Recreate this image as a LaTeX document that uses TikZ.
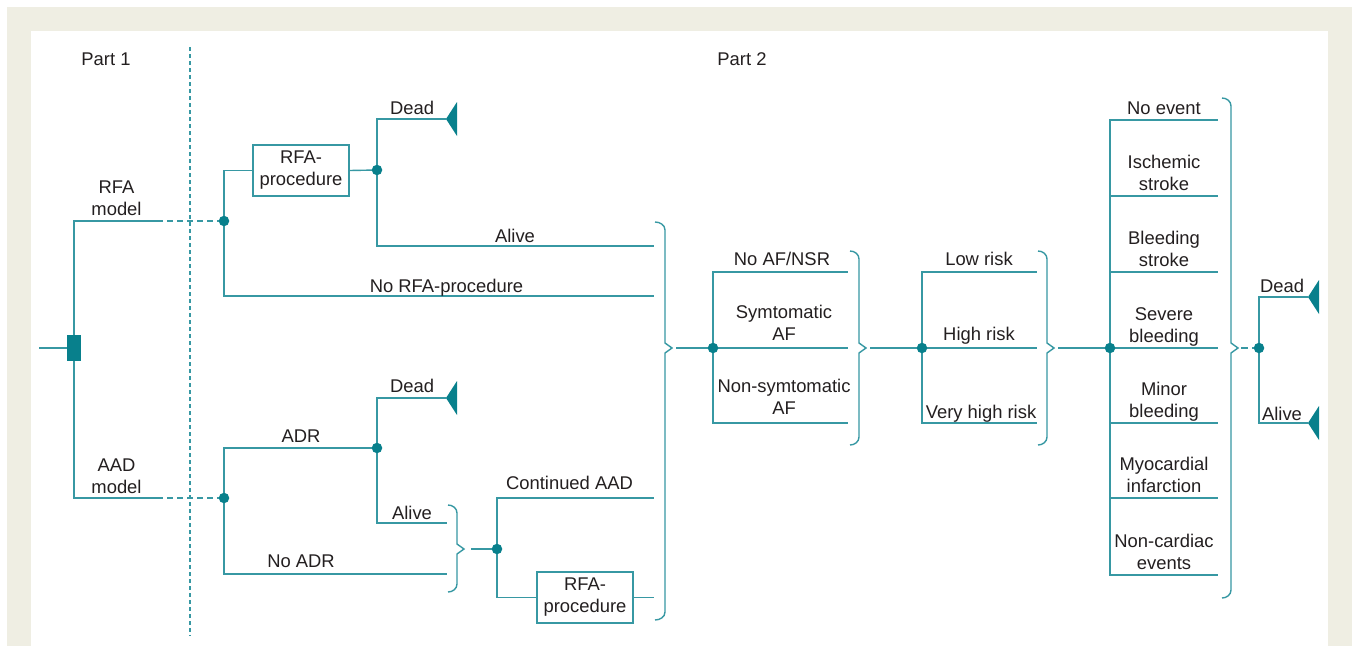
\documentclass[tikz,border=0pt]{standalone}
\usepackage{fontspec}
\setmainfont{Liberation Sans}
\definecolor{tline}{RGB}{55,152,163}
\definecolor{tdark}{RGB}{8,128,140}
\definecolor{txt}{RGB}{35,31,32}
\definecolor{beige}{RGB}{239,238,227}
\newcommand\lf{\fontsize{18.4}{22}\selectfont}
\newcommand\mybrace[5]{%
  \draw[ln] (#1,#3) to[out=0,in=90] (#2,#3+8) -- (#2,#5-5) -- (#2+7,#5) -- (#2,#5+5) -- (#2,#4-8) to[out=-90,in=0] (#1,#4);}
\newcommand\myterm[1]{%
  \fill[tdark] (#1) -- ++(11,-17) -- ++(0,34) -- cycle;}
\tikzset{
  ln/.style={draw=tline,line width=1.4pt},
  dsh/.style={draw=tline,line width=1.4pt,dash pattern=on 6pt off 4pt},
  dotnode/.style={circle,fill=tdark,inner sep=0pt,minimum size=10.5pt},
  pbox/.style={draw=tline,line width=1.4pt,rectangle,minimum width=96pt,minimum height=51pt,inner sep=0pt,align=center,text=txt,font=\lf},
  lbl/.style={anchor=base,text=txt,font=\lf,align=center,inner sep=0pt},
}
\begin{document}
\begin{tikzpicture}[x=1pt,y=-1pt]
\useasboundingbox (0,0) rectangle (1354,646);
\fill[white] (0,0) rectangle (1354,646);
\fill[beige] (7,7) rectangle (1352,646);
\fill[white] (31,31) rectangle (1328,646);
% divider
\draw[draw=tline,line width=1.1pt,dash pattern=on 4pt off 3pt] (190,47) -- (190,636);
\node[lbl] (p1) at (106,65) {Part 1};
\node[lbl] (p2) at (742,65) {Part 2};
% coordinates
\coordinate (rootL) at (39,348);
\coordinate (rfaC) at (74,221);
\coordinate (aadC) at (74,498);
\coordinate (rfaM) at (157,221);
\coordinate (aadM) at (157,498);
\coordinate (dR) at (224,221);
\coordinate (dA) at (224,498);
\coordinate (dR1) at (377,170);
\coordinate (dA1) at (377,448);
\coordinate (dA2) at (497,549);
\coordinate (dB) at (713,348);
\coordinate (dC) at (922,348);
\coordinate (dD) at (1110,348);
\coordinate (dE) at (1259,348);
% root
\node[fill=tdark,minimum width=14pt,minimum height=26pt,inner sep=0pt] (root) at (74,348) {};
\draw[ln] (rootL) -- (root.west);
\draw[ln] (root.north) -- (rfaC) -- (rfaM);
\draw[ln] (root.south) -- (aadC) -- (aadM);
\draw[dsh] (rfaM) -- (dR);
\draw[dsh] (aadM) -- (dA);
\node[lbl] (lrfa) at (116.5,215) {RFA\\model};
\node[lbl] (laad) at (116.5,493) {AAD\\model};
% RFA subtree
\node[pbox] (box1) at (301,170.5) {RFA-\\procedure};
\draw[ln] (dR) |- (box1.west);
\draw[ln] (box1.east) -- (dR1);
\coordinate (tRD) at (446,119);
\draw[ln] (dR1) |- (tRD);
\myterm{tRD}
\coordinate (eRA) at (654,246);
\draw[ln] (dR1) |- (eRA);
\coordinate (eRN) at (654,296);
\draw[ln] (dR) |- (eRN);
\node[lbl] (lrd) at (412,114) {Dead};
\node[lbl] (lra) at (515,242) {Alive};
\node[lbl] (lrn) at (446.5,292) {No RFA-procedure};
% AAD subtree
\draw[ln] (dA) |- (dA1);
\coordinate (tAD) at (446,398);
\draw[ln] (dA1) |- (tAD);
\myterm{tAD}
\coordinate (eAA) at (447,523);
\draw[ln] (dA1) |- (eAA);
\coordinate (eAN) at (447,574);
\draw[ln] (dA) |- (eAN);
\node[lbl] (ladr) at (301,442) {ADR};
\node[lbl] (lad) at (412,392.5) {Dead};
\node[lbl] (laa) at (412,519) {Alive};
\node[lbl] (lan) at (301,567.5) {No ADR};
\mybrace{448}{457}{505}{592}{549}
\coordinate (bS) at (471,549);
\draw[ln] (bS) -- (dA2);
\coordinate (eCA) at (654,498);
\draw[ln] (dA2) |- (eCA);
\node[lbl] (lca) at (569.5,489) {Continued AAD};
\node[pbox] (box2) at (585,597.5) {RFA-\\procedure};
\draw[ln] (dA2) |- (box2.west);
\coordinate (eRP) at (654,597.5);
\draw[ln] (box2.east) -- (eRP);
% brace 1
\mybrace{655}{665}{222}{620}{348}
\coordinate (b1) at (676,348);
\draw[ln] (b1) -- (dB);
\coordinate (eF1) at (848,272);
\coordinate (eF2) at (848,348);
\coordinate (eF3) at (848,423);
\draw[ln] (dB) |- (eF1);
\draw[ln] (dB) -- (eF2);
\draw[ln] (dB) |- (eF3);
\node[lbl] (lf1) at (782,265.5) {No AF/NSR};
\node[lbl] (lf2) at (784,340) {Symtomatic\\AF};
\node[lbl] (lf3) at (784,414) {Non-symtomatic\\AF};
% brace 2
\mybrace{850}{859}{251}{445}{348}
\coordinate (b2) at (870,348);
\draw[ln] (b2) -- (dC);
\coordinate (eR1) at (1037,272);
\coordinate (eR2) at (1037,348);
\coordinate (eR3) at (1037,423);
\draw[ln] (dC) |- (eR1);
\draw[ln] (dC) -- (eR2);
\draw[ln] (dC) |- (eR3);
\node[lbl] (lr1) at (979,265.5) {Low risk};
\node[lbl] (lr2) at (979,340) {High risk};
\node[lbl] (lr3) at (981,418) {Very high risk};
% brace 3
\mybrace{1038}{1047}{251}{445}{348}
\coordinate (b3) at (1058,348);
\draw[ln] (b3) -- (dD);
\foreach \n/\y in {1/120,2/196,3/272,4/348,5/423,6/498,7/575}{
  \coordinate (ev\n) at (1218,\y);
  \draw[ln] (dD) |- (ev\n);
}
\node[lbl] (le1) at (1164,114) {No event};
\node[lbl] (le2) at (1164,190) {Ischemic\\stroke};
\node[lbl] (le3) at (1164,266) {Bleeding\\stroke};
\node[lbl] (le4) at (1164,342) {Severe\\bleeding};
\node[lbl] (le5) at (1164,417) {Minor\\bleeding};
\node[lbl] (le6) at (1164,492) {Myocardial\\infarction};
\node[lbl] (le7) at (1164,569) {Non-cardiac\\events};
% brace 4
\mybrace{1222}{1231}{98}{598}{348}
\coordinate (b4a) at (1241,348);
\coordinate (b4b) at (1248,348);
\coordinate (b4c) at (1252,348);
\draw[ln] (b4a) -- (b4b);
\draw[ln] (b4c) -- (dE);
\coordinate (tED) at (1308,297);
\coordinate (tEA) at (1308,423);
\draw[ln] (dE) |- (tED);
\draw[ln] (dE) |- (tEA);
\myterm{tED}
\myterm{tEA}
\node[lbl] (led) at (1282,292) {Dead};
\node[lbl] (lea) at (1282,420) {Alive};
% dots
\foreach \d in {dR,dA,dR1,dA1,dA2,dB,dC,dD,dE}{
  \node[dotnode] (n\d) at (\d) {};
}
\end{tikzpicture}
\end{document}
